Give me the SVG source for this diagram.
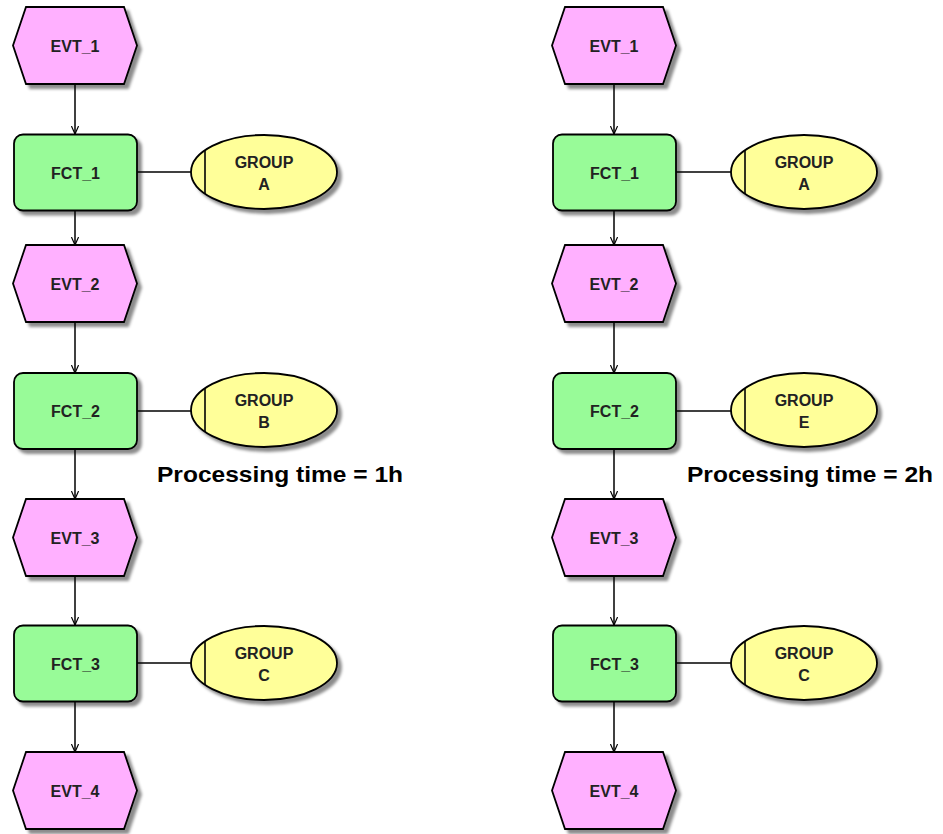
<svg xmlns="http://www.w3.org/2000/svg" width="943" height="834" viewBox="0 0 943 834">
<style>
.evt{fill:#ffb0ff;stroke:#000;stroke-width:1.8;filter:url(#sh)}
.fct{fill:#98fb98;stroke:#000;stroke-width:1.8;filter:url(#sh)}
.grp{fill:#ffff99;stroke:#000;stroke-width:1.8;filter:url(#sh)}
.bar{stroke:#000;stroke-width:1.6}
.lbl{font-family:"Liberation Sans",Arial,sans-serif;font-weight:bold;font-size:16px;fill:#222;text-anchor:middle}
.note{font-family:"Liberation Sans",Arial,sans-serif;font-weight:bold;font-size:22px;fill:#000}
.con{stroke:#000;stroke-width:1.5;fill:none}
.arr{marker-end:url(#ah)}
</style>
<defs>
<filter id="sh" x="-10%" y="-10%" width="130%" height="140%">
<feDropShadow dx="4" dy="4" stdDeviation="1.5" flood-color="#000" flood-opacity="0.45"/>
</filter>
<marker id="ah" viewBox="0 0 10 10" refX="10" refY="5" markerWidth="8" markerHeight="8" markerUnits="userSpaceOnUse" orient="auto">
<path d="M0,0.5 L10,5 L0,9.5" fill="none" stroke="#000" stroke-width="1.5"/>
</marker>
<path id="hex" d="M-49,-38.5 L49,-38.5 L62,0 L49,38.5 L-49,38.5 L-62,0 Z"/>
</defs>

<g id="connectors">
<line class="con arr" x1="75" y1="84" x2="75" y2="134"/>
<line class="con arr" x1="75" y1="211" x2="75" y2="245"/>
<line class="con arr" x1="75" y1="322" x2="75" y2="373"/>
<line class="con arr" x1="75" y1="449" x2="75" y2="499"/>
<line class="con arr" x1="75" y1="576" x2="75" y2="625"/>
<line class="con arr" x1="75" y1="702" x2="75" y2="752"/>
<line class="con" x1="137" y1="172" x2="191" y2="172"/>
<line class="con" x1="137" y1="411" x2="191" y2="411"/>
<line class="con" x1="137" y1="663" x2="191" y2="663"/>
<line class="con arr" x1="614" y1="84" x2="614" y2="134"/>
<line class="con arr" x1="614" y1="211" x2="614" y2="245"/>
<line class="con arr" x1="614" y1="322" x2="614" y2="373"/>
<line class="con arr" x1="614" y1="449" x2="614" y2="499"/>
<line class="con arr" x1="614" y1="576" x2="614" y2="625"/>
<line class="con arr" x1="614" y1="702" x2="614" y2="752"/>
<line class="con" x1="676" y1="172" x2="731" y2="172"/>
<line class="con" x1="676" y1="411" x2="731" y2="411"/>
<line class="con" x1="676" y1="663" x2="731" y2="663"/>
</g>

<g id="L_EVT_1" transform="translate(75,45.5)"><use href="#hex" class="evt"/><text class="lbl" y="6">EVT_1</text></g>
<g id="L_FCT_1" transform="translate(75.5,172.5)"><rect class="fct" x="-61.5" y="-38" width="123" height="76" rx="9"/><text class="lbl" y="6">FCT_1</text></g>
<g id="L_GROUP_A" transform="translate(264,172)"><ellipse class="grp" rx="73" ry="37"/><line class="bar" x1="-59" y1="-22" x2="-59" y2="22"/><text class="lbl" y="-4">GROUP</text><text class="lbl" y="18">A</text></g>
<g id="L_EVT_2" transform="translate(75,283.5)"><use href="#hex" class="evt"/><text class="lbl" y="6">EVT_2</text></g>
<g id="L_FCT_2" transform="translate(75.5,411)"><rect class="fct" x="-61.5" y="-38" width="123" height="76" rx="9"/><text class="lbl" y="6">FCT_2</text></g>
<g id="L_GROUP_B" transform="translate(264,410)"><ellipse class="grp" rx="73" ry="37"/><line class="bar" x1="-59" y1="-22" x2="-59" y2="22"/><text class="lbl" y="-4">GROUP</text><text class="lbl" y="18">B</text></g>
<g id="L_NOTE"><text class="note" x="157" y="482" textLength="246" lengthAdjust="spacingAndGlyphs">Processing time = 1h</text></g>
<g id="L_EVT_3" transform="translate(75,537.5)"><use href="#hex" class="evt"/><text class="lbl" y="6">EVT_3</text></g>
<g id="L_FCT_3" transform="translate(75.5,663.5)"><rect class="fct" x="-61.5" y="-38" width="123" height="76" rx="9"/><text class="lbl" y="6">FCT_3</text></g>
<g id="L_GROUP_C" transform="translate(264,663)"><ellipse class="grp" rx="73" ry="37"/><line class="bar" x1="-59" y1="-22" x2="-59" y2="22"/><text class="lbl" y="-4">GROUP</text><text class="lbl" y="18">C</text></g>
<g id="L_EVT_4" transform="translate(75,790.5)"><use href="#hex" class="evt"/><text class="lbl" y="6">EVT_4</text></g>

<g id="R_EVT_1" transform="translate(614,45.5)"><use href="#hex" class="evt"/><text class="lbl" y="6">EVT_1</text></g>
<g id="R_FCT_1" transform="translate(614.5,172.5)"><rect class="fct" x="-61.5" y="-38" width="123" height="76" rx="9"/><text class="lbl" y="6">FCT_1</text></g>
<g id="R_GROUP_A" transform="translate(804,172)"><ellipse class="grp" rx="73" ry="37"/><line class="bar" x1="-59" y1="-22" x2="-59" y2="22"/><text class="lbl" y="-4">GROUP</text><text class="lbl" y="18">A</text></g>
<g id="R_EVT_2" transform="translate(614,283.5)"><use href="#hex" class="evt"/><text class="lbl" y="6">EVT_2</text></g>
<g id="R_FCT_2" transform="translate(614.5,411)"><rect class="fct" x="-61.5" y="-38" width="123" height="76" rx="9"/><text class="lbl" y="6">FCT_2</text></g>
<g id="R_GROUP_E" transform="translate(804,410)"><ellipse class="grp" rx="73" ry="37"/><line class="bar" x1="-59" y1="-22" x2="-59" y2="22"/><text class="lbl" y="-4">GROUP</text><text class="lbl" y="18">E</text></g>
<g id="R_NOTE"><text class="note" x="687" y="482" textLength="246" lengthAdjust="spacingAndGlyphs">Processing time = 2h</text></g>
<g id="R_EVT_3" transform="translate(614,537.5)"><use href="#hex" class="evt"/><text class="lbl" y="6">EVT_3</text></g>
<g id="R_FCT_3" transform="translate(614.5,663.5)"><rect class="fct" x="-61.5" y="-38" width="123" height="76" rx="9"/><text class="lbl" y="6">FCT_3</text></g>
<g id="R_GROUP_C" transform="translate(804,663)"><ellipse class="grp" rx="73" ry="37"/><line class="bar" x1="-59" y1="-22" x2="-59" y2="22"/><text class="lbl" y="-4">GROUP</text><text class="lbl" y="18">C</text></g>
<g id="R_EVT_4" transform="translate(614,790.5)"><use href="#hex" class="evt"/><text class="lbl" y="6">EVT_4</text></g>
</svg>
